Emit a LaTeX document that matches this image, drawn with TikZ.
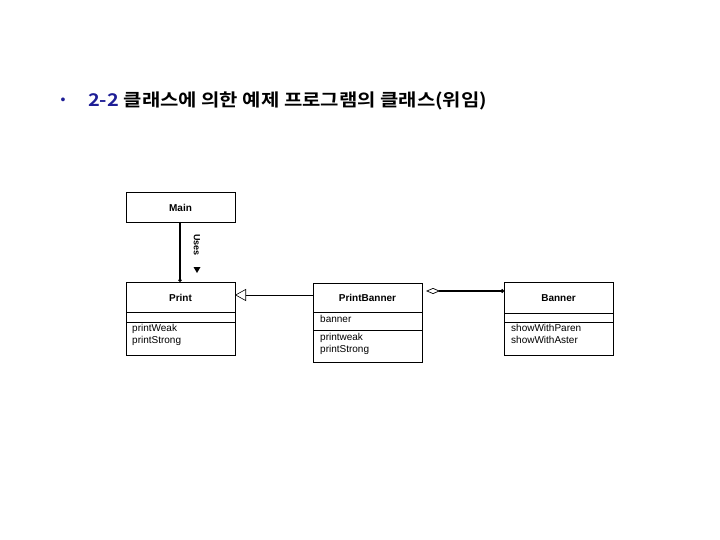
\documentclass[tikz,border=0pt]{standalone}
\usepackage{fontspec}
\setmainfont{Liberation Sans}
\newfontfamily\kr{Noto Sans CJK KR}[BoldFont={Noto Sans CJK KR Bold}]
\usetikzlibrary{arrows.meta}
\definecolor{navy}{RGB}{30,30,150}
\begin{document}
\begin{tikzpicture}[x=1pt,y=-1pt,
  box/.style={draw,line width=0.6pt,inner sep=0pt},
  hd/.style={font=\fontsize{10}{11}\selectfont\bfseries},
  mt/.style={font=\fontsize{10}{12}\selectfont,align=left,anchor=north west,inner sep=0pt}]
\useasboundingbox (0,0) rectangle (720,540);
\node[text=navy,anchor=west,font=\fontsize{14}{16}\selectfont] (bul) at (57,101) {•};
\node[text=black,anchor=west,font=\kr\bfseries\fontsize{17.5}{19}\selectfont,inner sep=0pt,xscale=1.14,transform shape] (title) at (88,101) {\textcolor{navy}{2-2} 클래스에 의한 예제 프로그램의 클래스(위임)};
% Main
\draw[line width=0.6pt] (126,192) rectangle (235,222);
\node[hd] (main) at (180.5,208) {Main};
\coordinate (mainb) at (180,222);
% Print
\draw[line width=0.6pt] (126,282) rectangle (235,355);
\draw[line width=0.6pt] (126,312) -- (235,312) (126,322) -- (235,322);
\node[hd] (print) at (180.5,298) {Print};
\node[mt] (pm) at (132,324) {printWeak\\printStrong};
\coordinate (printt) at (180,282);
\coordinate (printr) at (235,295);
% PrintBanner
\draw[line width=0.6pt] (313,283) rectangle (422,362);
\draw[line width=0.6pt] (313,312) -- (422,312) (313,330) -- (422,330);
\node[hd] (pb) at (367.5,298) {PrintBanner};
\node[mt] (pba) at (320,315) {banner};
\node[mt] (pbm) at (320,333) {printweak\\printStrong};
\coordinate (pbl) at (313,295);
\coordinate (pbr) at (426,291);
% Banner
\draw[line width=0.6pt] (504,282) rectangle (613,355);
\draw[line width=0.6pt] (504,313) -- (613,313) (504,322) -- (613,322);
\node[hd] (ban) at (558.5,298) {Banner};
\node[mt] (bm) at (511,324) {showWithParen\\showWithAster};
\coordinate (banl) at (504,291);
% connectors
\draw[line width=1.1pt,-{Circle[length=3.5pt]}] (mainb) -- (printt);
\node[rotate=-90,font=\fontsize{9}{10}\selectfont\bfseries] (uses) at (197,245) {Uses};
\fill (193.5,267) -- (200.5,267) -- (197,273) -- cycle;
\draw[line width=0.6pt,-{Triangle[open,length=11pt,width=12pt]}] (pbl) -- (printr);
\draw[line width=1.3pt,{Diamond[open,length=14pt,width=6pt,line width=0.7pt]}-{Circle[length=3.5pt]}] (pbr) -- (banl);
\end{tikzpicture}
\end{document}
